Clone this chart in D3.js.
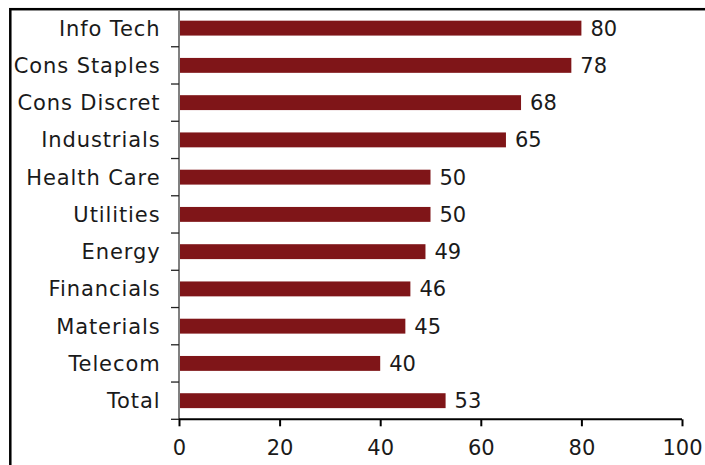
<!DOCTYPE html>
<html><head><meta charset="utf-8">
<script src="https://cdn.jsdelivr.net/npm/d3@7"></script>
<style>html,body{margin:0;padding:0;background:#fff;}svg{display:block;}</style>
</head><body>
<script>
const categories = ["Info Tech","Cons Staples","Cons Discret","Industrials","Health Care","Utilities","Energy","Financials","Materials","Telecom","Total"];
const values = [80,78,68,65,50,50,49,46,45,40,53];
const xTicks = [0,20,40,60,80,100];

const W = 705, H = 465;
const svg = d3.select("body").append("svg").attr("width", W).attr("height", H);
const font = "'DejaVu Sans', Verdana, sans-serif";
const fs = 21;

// frame
svg.append("rect").attr("x",10.3).attr("y",9.2).attr("width",W+20).attr("height",H+20)
  .attr("fill","none").attr("stroke","#000").attr("stroke-width",2.5);

const x = d3.scaleLinear().domain([0,100]).range([179,682]);
const y = d3.scaleBand().domain(categories).range([9.5,419.3]).paddingInner(0.6).paddingOuter(0.3);

// bars
svg.selectAll("rect.bar").data(categories).join("rect").attr("class","bar")
  .attr("x", x(0)).attr("y", d=>y(d)).attr("height", y.bandwidth())
  .attr("width", (d,i)=>x(values[i])-x(0)).attr("fill","#7f1518");

// value labels
svg.selectAll("text.val").data(categories).join("text").attr("class","val")
  .attr("x",(d,i)=>x(values[i])+9).attr("y",d=>y(d)+y.bandwidth()/2).attr("dy","0.36em")
  .attr("font-family",font).attr("font-size",fs).attr("fill","#1a1a1a")
  .text((d,i)=>values[i]);

// y axis
const step = y.step();
const yAxisG = svg.append("g");
yAxisG.append("line").attr("x1",179).attr("x2",179).attr("y1",10).attr("y2",419.3)
  .attr("stroke","#808080").attr("stroke-width",2);
const bounds = d3.range(categories.length+1).map(i=>9.5+i*step);
yAxisG.selectAll("line.tk").data(bounds.slice(1)).join("line").attr("class","tk")
  .attr("x1",171).attr("x2",179).attr("y1",d=>d).attr("y2",d=>d)
  .attr("stroke","#222").attr("stroke-width",1.3);
yAxisG.selectAll("text").data(categories).join("text")
  .attr("x",160.5).attr("y",d=>y(d)+y.bandwidth()/2).attr("dy","0.36em")
  .attr("text-anchor","end").attr("font-family",font).attr("font-size",fs).attr("fill","#1a1a1a")
  .attr("letter-spacing","0.9px")
  .text(d=>d);

// x axis
const xAxis = d3.axisBottom(x).tickValues(xTicks).tickSize(7).tickPadding(14).tickFormat(d3.format("d"));
const gx = svg.append("g").attr("transform","translate(0,419.3)").call(xAxis);
gx.select(".domain").attr("stroke","#000").attr("stroke-width",2).attr("d","M179,0H682");
gx.selectAll(".tick line").attr("stroke","#000").attr("stroke-width",2);
gx.selectAll(".tick text").attr("font-family",font).attr("font-size",fs).attr("fill","#1a1a1a");
</script>
</body></html>
